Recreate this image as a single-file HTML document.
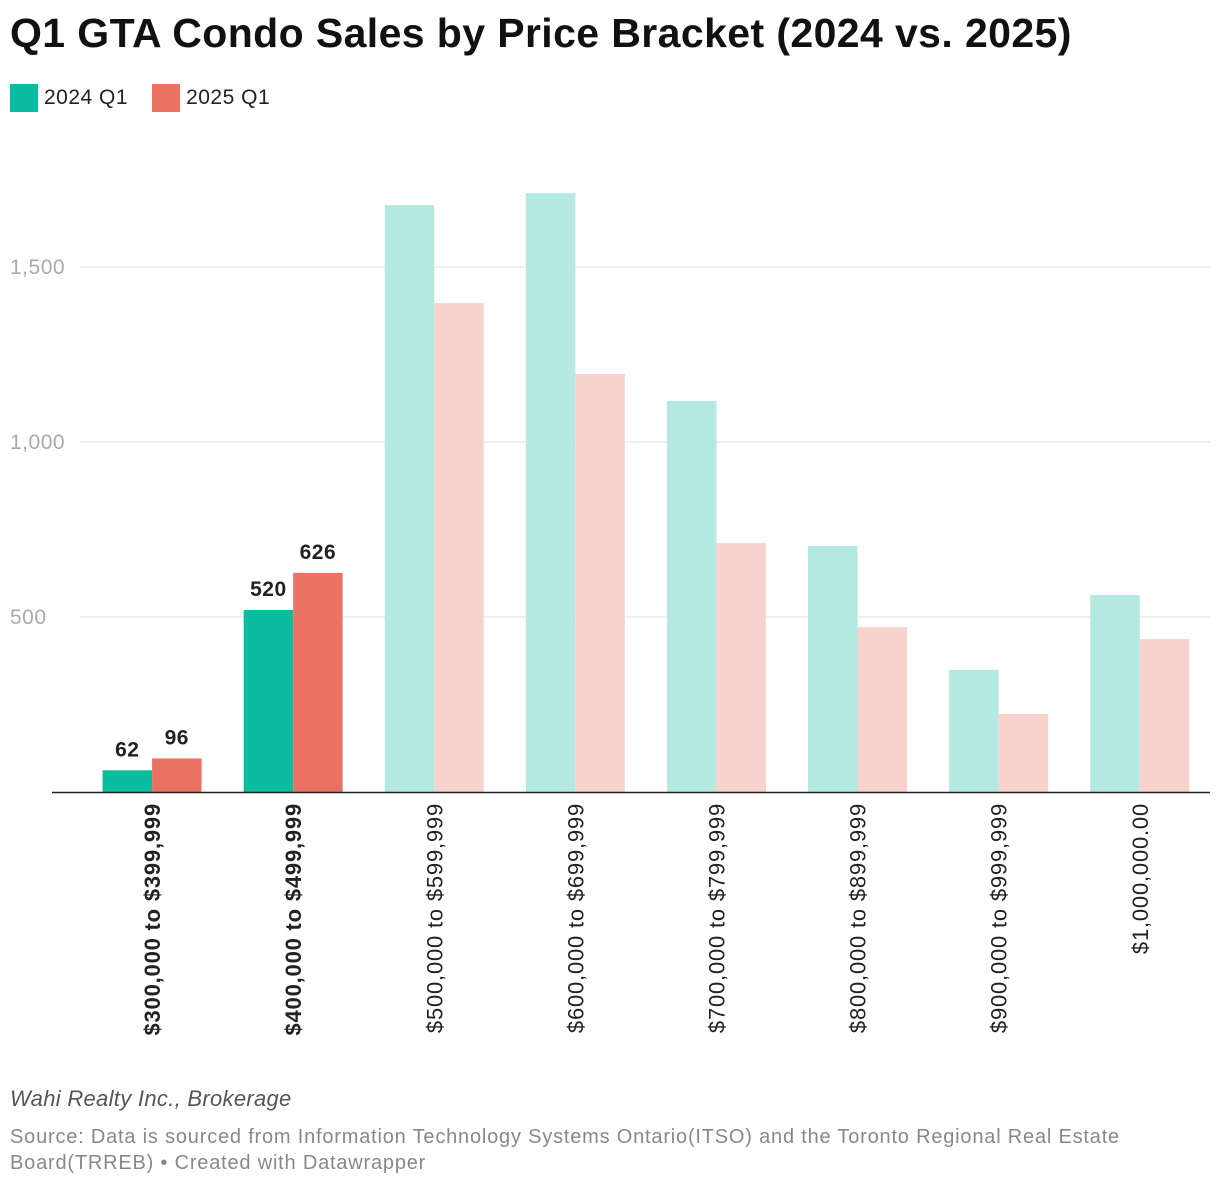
<!DOCTYPE html>
<html><head><meta charset="utf-8"><style>
body{margin:0;width:1220px;height:1188px;background:#fff;font-family:"Liberation Sans",Roboto,sans-serif;overflow:hidden;position:relative}
#title{position:absolute;left:10px;top:10px;font-size:41px;font-weight:bold;color:#111;letter-spacing:0.4px}
#legend{position:absolute;left:10px;top:84px;font-size:21px;letter-spacing:0.5px;color:#222;display:flex;gap:24px}
.li{display:flex;align-items:center;gap:6px}.sw{width:28px;height:28px}
#credit{position:absolute;left:10px;top:1086px;font-size:22px;letter-spacing:0.3px;font-style:italic;color:#555}
#src{position:absolute;left:10px;top:1124px;font-size:20px;letter-spacing:0.8px;color:#888;line-height:26px;width:1150px}
svg{position:absolute;left:0;top:0}
</style></head><body>
<div id="title">Q1 GTA Condo Sales by Price Bracket (2024 vs. 2025)</div>
<div id="legend">
<div class="li"><div class="sw" style="background:#0cbc9f"></div>2024 Q1</div>
<div class="li"><div class="sw" style="background:#eb7262"></div>2025 Q1</div>
</div>
<svg id="chart" width="1220" height="1188"></svg>
<div id="credit">Wahi Realty Inc., Brokerage</div>
<div id="src">Source: Data is sourced from Information Technology Systems Ontario(ITSO) and the Toronto Regional Real Estate Board(TRREB) • Created with Datawrapper</div>
<script>
const categories=["$300,000 to $399,999","$400,000 to $499,999","$500,000 to $599,999","$600,000 to $699,999","$700,000 to $799,999","$800,000 to $899,999","$900,000 to $999,999","$1,000,000.00"];
const values2024=[62,520,1677,1711,1117,703,349,563];
const values2025=[96,626,1397,1194,711,471,223,437];
const highlighted=[true,true,false,false,false,false,false,false];
const yTicks=[500,1000,1500];
const yTickLabels=["500","1,000","1,500"];
const NS="http://www.w3.org/2000/svg",svg=document.getElementById('chart');
const y0=792,k=0.35,x0=81.5,band=141.1,bw=49.5;
const y=v=>y0-v*k, xc=i=>x0+band*(i+0.5);
function mk(t,a){const e=document.createElementNS(NS,t);for(const n in a)e.setAttribute(n,a[n]);svg.appendChild(e);return e;}
yTicks.forEach((t,i)=>{
 const g=mk('line',{x1:80,x2:1210,y1:y(t),y2:y(t),stroke:'#e0e0e0','stroke-width':1});
 
 
 const l=mk('text',{x:10,y:y(t)+7,'font-size':21,'letter-spacing':0.5,fill:'#aaa'});l.textContent=yTickLabels[i];
 
 
});
categories.forEach((c,i)=>{
 const h=highlighted[i];
 [[values2024[i],h?'#0cbc9f':'#b3e9e1',-bw],[values2025[i],h?'#eb7262':'#f8d3ce',0]].forEach(([v,col,off],j)=>{
  const r=mk('rect',{x:xc(i)+off,y:y(v),width:bw,height:v*k,fill:col});
  
  
  if(h){const t=mk('text',{x:xc(i)+off+bw/2,y:y(v)-14,'text-anchor':'middle','font-size':21,'letter-spacing':0.5,'font-weight':'bold',fill:'#222'});t.textContent=v;
   
   }
 });
 const t=mk('text',{transform:`translate(${xc(i)+8},803) rotate(-90)`,'text-anchor':'end','font-size':22,'letter-spacing':0.8,fill:'#222','font-weight':h?'bold':'normal'});
 t.textContent=c;
 
 
});
const ax=mk('line',{x1:52,x2:1210,y1:y0+0.5,y2:y0+0.5,stroke:'#222','stroke-width':1.5});


</script>
</body></html>
